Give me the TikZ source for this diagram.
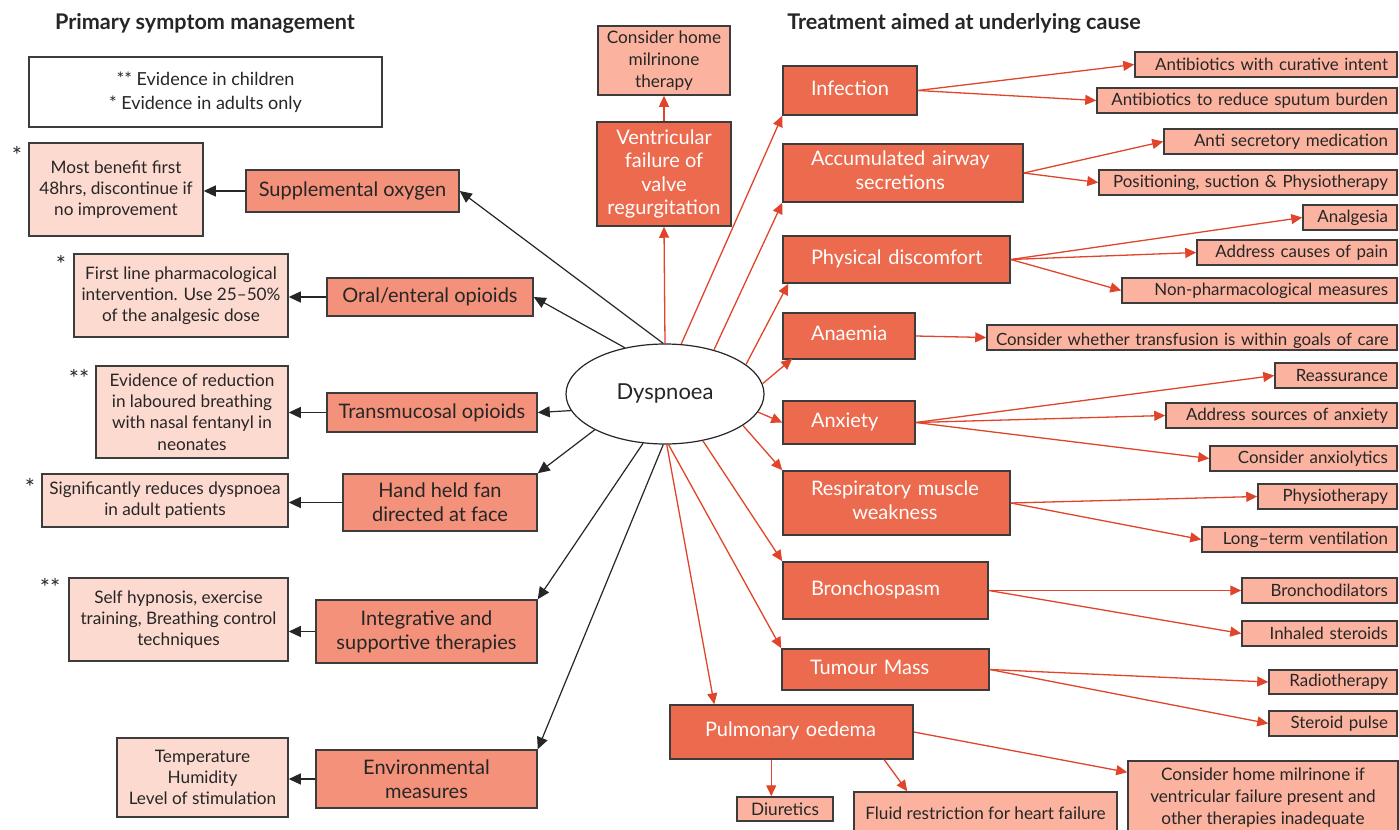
\documentclass[tikz,border=0pt]{standalone}
\usepackage{fontspec}
\setmainfont{Lato}
\usetikzlibrary{arrows.meta,shapes.geometric}

\definecolor{symfill}{HTML}{F4917A}
\definecolor{notefill}{HTML}{FDDAD0}
\definecolor{causefill}{HTML}{EC6A4D}
\definecolor{treatfill}{HTML}{FBB3A0}
\definecolor{linkred}{HTML}{E0442A}
\definecolor{edgegray}{HTML}{3C3C3C}
\definecolor{ink}{HTML}{262626}

\tikzset{
  box/.style={draw=edgegray, line width=0.75pt, inner sep=0pt, align=center, text=ink},
  sym/.style={box, fill=symfill, font=\fontsize{10}{12}\selectfont},
  note/.style={box, fill=notefill, font=\fontsize{8.6}{10.6}\selectfont},
  cause/.style={box, fill=causefill, text=white, align=left, font=\fontsize{10}{11.8}\selectfont},
  causec/.style={box, fill=causefill, text=white, font=\fontsize{10}{11.6}\selectfont},
  treat/.style={box, fill=treatfill, align=right, inner xsep=4.5pt, font=\fontsize{8.45}{10}\selectfont},
  treatc/.style={box, fill=treatfill, font=\fontsize{8.6}{11}\selectfont},
  legendbox/.style={box, fill=white, font=\fontsize{9}{12}\selectfont},
  heading/.style={font=\bfseries\fontsize{10.8}{12}\selectfont, text=ink},
  starmark/.style={font=\fontsize{12}{12}\selectfont, text=ink, inner sep=0pt},
  blacklink/.style={draw=ink, line width=0.6pt, -{Triangle[length=6pt,width=5.5pt]}},
  redlink/.style={draw=linkred, line width=0.65pt, -{Triangle[length=5.5pt,width=5pt]}},
}

% box given by its corners in pixel units: style, name, x1, y1, x2, y2, text
\newcommand\boxnode[7]{%
  \pgfmathsetmacro\bxw{(#5-#3)*0.5}%
  \pgfmathsetmacro\bxh{(#6-#4)*0.5}%
  \node[#1, minimum width=\bxw pt, minimum height=\bxh pt] (#2) at ({(#3+#5)/2},{(#4+#6)/2}) {#7};}
% right-aligned treatment box: name, x1, y1, x2, y2, text
\newcommand\treatnode[6]{%
  \pgfmathsetmacro\bxt{(#4-#2)*0.5-9}%
  \pgfmathsetmacro\bxh{(#5-#3)*0.5}%
  \node[treat, text width=\bxt pt, minimum height=\bxh pt] (#1) at ({(#2+#4)/2},{(#3+#5)/2})
    {\hfill\mbox{#6}};}
% cause box with text block indented from the left: name, x1, y1, x2, y2, indent, text
\newcommand\causenode[7]{%
  \pgfmathsetmacro\bxw{(#4-#2)*0.5}%
  \pgfmathsetmacro\bxh{(#5-#3)*0.5}%
  \node[cause, text width=\bxw pt, minimum height=\bxh pt] (#1) at ({(#2+#4)/2},{(#3+#5)/2})
    {\hspace*{#6pt}\begin{tabular}{@{}c@{}}#7\end{tabular}};}

\begin{document}
\begin{tikzpicture}[x=0.5pt, y=-0.5pt]
\useasboundingbox (0,0) rectangle (1399,830);

% headings and legend
\node[heading] (headL) at (205,23) {Primary symptom management};
\node[heading] (headR) at (964,23) {Treatment aimed at underlying cause};
\boxnode{legendbox}{legend}{29}{57}{382}{127}{** Evidence in children\\* Evidence in adults only}

% central symptom
\node[ellipse, draw=ink, line width=0.6pt, fill=white, minimum width=99pt, minimum height=50pt,
      inner sep=0pt, font=\fontsize{11}{13}\selectfont, text=ink] (dys) at (665,394) {Dyspnoea};

% primary symptom management
\boxnode{note}{n1}{29}{143}{203}{236}{Most benefit first\\48hrs, discontinue if\\no improvement}
\boxnode{sym}{sup}{246}{170}{459}{212}{Supplemental oxygen}
\boxnode{note}{n2}{74}{254}{288}{337}{First line pharmacological\\intervention. Use 25–50\%\\of the analgesic dose}
\boxnode{sym}{oral}{327}{278}{533}{316}{Oral/enteral opioids}
\boxnode{note}{n3}{96}{366}{288}{458}{Evidence of reduction\\in laboured breathing\\with nasal fentanyl in\\neonates}
\boxnode{sym}{trans}{327}{393}{537}{432}{Transmucosal opioids}
\boxnode{note}{n4}{42}{474}{288}{527}{Significantly reduces dyspnoea\\in adult patients}
\boxnode{sym}{fan}{343}{474}{537}{531}{Hand held fan\\directed at face}
\boxnode{note}{n5}{69}{578}{288}{661}{Self hypnosis, exercise\\training, Breathing control\\techniques}
\boxnode{sym}{integ}{316}{600}{537}{663}{Integrative and\\supportive therapies}
\boxnode{note}{n6}{117}{738}{288}{817}{Temperature\\Humidity\\Level of stimulation}
\boxnode{sym}{env}{316}{750}{537}{808}{Environmental\\measures}

% evidence marks
\node[starmark] (s1) at (17,155) {*};
\node[starmark] (s2) at (61,264) {*};
\node[starmark] (s3) at (79,378) {**};
\node[starmark] (s4) at (30,487) {*};
\node[starmark] (s5) at (50,587) {**};

% underlying causes
\boxnode{treatc}{mtop}{598}{26}{730}{95}{Consider home\\milrinone\\therapy}
\boxnode{causec}{vent}{597}{122}{731}{226}{Ventricular\\failure of\\valve\\regurgitation}
\causenode{inf}{783}{66}{917}{115}{14}{Infection}
\causenode{acc}{783}{144}{1023}{202}{14}{Accumulated airway\\secretions}
\causenode{phys}{783}{236}{1010}{283}{14}{Physical discomfort}
\causenode{anae}{783}{313}{915}{359}{14}{Anaemia}
\causenode{anx}{783}{401}{915}{444}{14}{Anxiety}
\causenode{resp}{783}{471}{1010}{535}{14}{Respiratory muscle\\weakness}
\causenode{bron}{783}{562}{988}{619}{14}{Bronchospasm}
\causenode{tum}{782}{649}{989}{690}{14}{Tumour Mass}
\causenode{pul}{670}{705}{913}{759}{17.5}{Pulmonary oedema}

% treatments
\treatnode{t11}{1135}{52}{1397}{77}{Antibiotics with curative intent}
\treatnode{t12}{1097}{88}{1397}{113}{Antibiotics to reduce sputum burden}
\treatnode{t21}{1164}{129}{1397}{154}{Anti secretory medication}
\treatnode{t22}{1099}{170}{1397}{195}{Positioning, suction \& Physiotherapy}
\treatnode{t31}{1303}{205}{1397}{230}{Analgesia}
\treatnode{t32}{1197}{240}{1397}{265}{Address causes of pain}
\treatnode{t33}{1122}{278}{1397}{303}{Non-pharmacological measures}
\treatnode{t41}{987}{325}{1397}{350}{Consider whether transfusion is within goals of care}
\treatnode{t51}{1275}{363}{1397}{388}{Reassurance}
\treatnode{t52}{1166}{403}{1397}{428}{Address sources of anxiety}
\treatnode{t53}{1210}{446}{1397}{471}{Consider anxiolytics}
\treatnode{t61}{1258}{484}{1397}{509}{Physiotherapy}
\treatnode{t62}{1202}{527}{1397}{552}{Long–term ventilation}
\treatnode{t71}{1242}{578}{1397}{603}{Bronchodilators}
\treatnode{t72}{1242}{621}{1397}{646}{Inhaled steroids}
\treatnode{t81}{1269}{670}{1397}{694}{Radiotherapy}
\treatnode{t82}{1269}{711}{1397}{736}{Steroid pulse}
\boxnode{treatc}{diu}{737}{797}{833}{821}{Diuretics}
\boxnode{treatc}{fluid}{854}{792}{1117}{834}{Fluid restriction for heart failure}
\boxnode{treatc}{cons}{1128}{761}{1398}{834}{Consider home milrinone if\\ventricular failure present and\\other therapies inadequate}

% links to primary symptom management
\draw[blacklink] (dys.92) -- (sup.east);
\draw[blacklink] (dys.131) -- (oral.east);
\draw[blacklink] (dys.190) -- (trans.east);
\draw[blacklink] (dys.207) -- (fan.north east);
\draw[blacklink] (dys.246) -- (integ.north east);
\draw[blacklink] (dys.268) -- (env.north east);
\draw[blacklink] (sup.west) -- (sup.west -| n1.east);
\draw[blacklink] (oral.west) -- (oral.west -| n2.east);
\draw[blacklink] (trans.west) -- (trans.west -| n3.east);
\draw[blacklink] (fan.west) -- (fan.west -| n4.east);
\draw[blacklink] (integ.west) -- (integ.west -| n5.east);
\draw[blacklink] (env.west) -- (env.west -| n6.east);

% links to underlying causes
\draw[redlink] (dys.north) -- (vent.south);
\draw[redlink] (vent.north) -- (mtop.south);
\draw[redlink] (dys.72) -- (inf.south west);
\draw[redlink] (dys.42) -- (acc.south west);
\draw[redlink] (dys.20) -- ([xshift=3pt]phys.south west);
\draw[redlink] (dys.6) -- ([xshift=5pt,yshift=0.5pt]anae.south west);
\draw[redlink] (dys.-11) -- (anx.west);
\draw[redlink] (dys.-22) -- (resp.north west);
\draw[redlink] (dys.-51) -- (bron.north west);
\draw[redlink] (dys.-86) -- (tum.north west);
\draw[redlink] (dys.-88) -- ([xshift=22.5pt]pul.north west);

% links to treatments
\draw[redlink] (inf.east) -- (t11.west);
\draw[redlink] (inf.east) -- (t12.west);
\draw[redlink] (acc.east) -- (t21.west);
\draw[redlink] (acc.east) -- (t22.west);
\draw[redlink] (phys.east) -- (t31.west);
\draw[redlink] (phys.east) -- (t32.west);
\draw[redlink] (phys.east) -- (t33.west);
\draw[redlink] (anae.east) -- (t41.west);
\draw[redlink] (anx.east) -- (t51.west);
\draw[redlink] (anx.east) -- (t52.west);
\draw[redlink] (anx.east) -- (t53.west);
\draw[redlink] (resp.east) -- (t61.west);
\draw[redlink] (resp.east) -- (t62.west);
\draw[redlink] (bron.east) -- (t71.west);
\draw[redlink] (bron.east) -- (t72.west);
\draw[redlink] (tum.east) -- (t81.west);
\draw[redlink] (tum.east) -- (t82.west);
\draw[redlink] ([xshift=51pt]pul.south west) -- ([xshift=17.5pt]diu.north west);
\draw[redlink] ([xshift=107.5pt]pul.south west) -- ([xshift=27pt]fluid.north west);
\draw[redlink] (pul.east) -- ([yshift=-6pt]cons.north west);
\end{tikzpicture}
\end{document}
